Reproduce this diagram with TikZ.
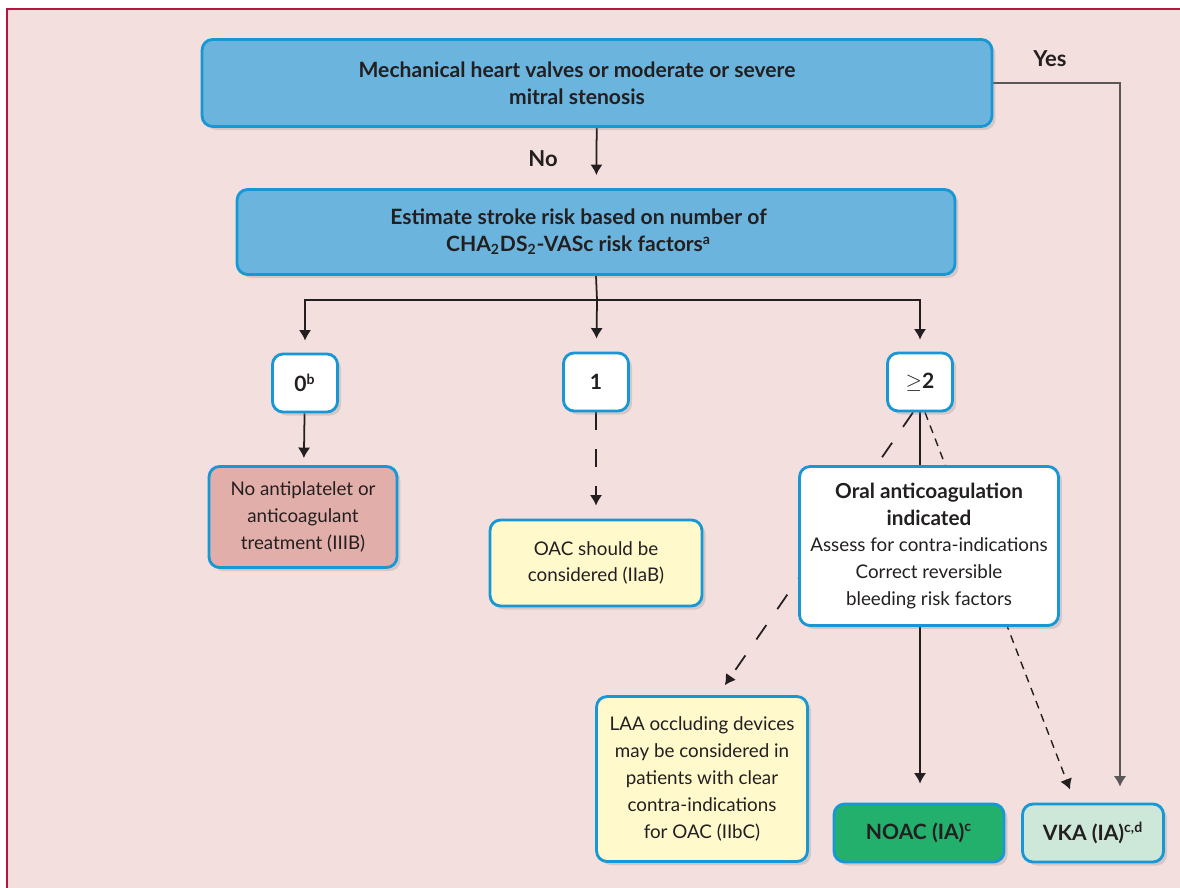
\documentclass[tikz,border=0pt]{standalone}
\usepackage{fontspec}
\setmainfont{Lato}
\usepackage{tikz}
\usetikzlibrary{arrows,arrows.meta,positioning,shapes,shadows,backgrounds}

\definecolor{bluebox}{HTML}{6BB4DD}
\definecolor{blueline}{HTML}{1897D5}
\definecolor{pinkbg}{HTML}{F3DFDE}
\definecolor{framered}{HTML}{B5163E}
\definecolor{redbox}{HTML}{E2AEA9}
\definecolor{yellowbox}{HTML}{FFF9CC}
\definecolor{greenbox}{HTML}{22B06C}
\definecolor{mintbox}{HTML}{CDE7D8}
\definecolor{ink}{HTML}{231F20}

\newcommand{\headline}[1]{{\bfseries\fontsize{11.8}{15.3}\selectfont #1}}

\pgfdeclarelayer{back}
\pgfdeclarelayer{lines}
\pgfsetlayers{back,lines,main}

\begin{document}
\begin{tikzpicture}[x=0.02cm,y=-0.02cm,>={Latex[length=6pt,width=7pt]},
  font=\fontsize{10.7}{15.3}\selectfont,
  box/.style={draw=blueline,line width=1.6pt,rounded corners=6pt,align=center,
    text=ink,inner sep=2pt,
    drop shadow={shadow xshift=2pt,shadow yshift=-2pt,opacity=0.25}},
  topbox/.style={box,fill=bluebox,font=\bfseries\fontsize{12}{15.3}\selectfont},
  scorebox/.style={box,fill=white,minimum width=1.3cm,minimum height=1.16cm,
    font=\bfseries\fontsize{12}{14}\selectfont},
  endbox/.style={box,minimum height=1.16cm,font=\bfseries\fontsize{12}{14}\selectfont},
  answer/.style={text=ink,font=\bfseries\fontsize{12.5}{14}\selectfont}]

\useasboundingbox (0,0) rectangle (1180,888);
\begin{pgfonlayer}{back}
  \fill[white] (0,0) rectangle (1180,888);
  \clip (0,0) rectangle (1180,888);
  \draw[framered,fill=pinkbg,line width=0.6pt] (7,9) rectangle (1200,900);
\end{pgfonlayer}

\node[topbox,minimum width=15.8cm,minimum height=1.74cm] (valve) at (597,83)
  {Mechanical heart valves or moderate or severe\hspace*{0.8cm}\\mitral stenosis\hspace*{0.8cm}};
\node[topbox,minimum width=14.36cm,minimum height=1.7cm] (risk) at (596,232)
  {Estimate stroke risk based on number of\hspace*{0.7cm}\\CHA\textsubscript{2}DS\textsubscript{2}-VASc risk factors\textsuperscript{a}\hspace*{0.7cm}};

\node[scorebox] (zero) at (305,383) {0\textsuperscript{b}};
\node[scorebox] (one)  at (596,382) {1};
\node[scorebox] (two)  at (920,382) {$\geq$2};

\node[box,fill=redbox,minimum width=3.76cm,minimum height=2.02cm] (none) at (303,517)
  {No antiplatelet or\\anticoagulant\\treatment (IIIB)};
\node[box,fill=yellowbox,minimum width=4.24cm,minimum height=1.72cm] (oac) at (596,563)
  {OAC should be\\considered (IIaB)};
\node[box,fill=white,minimum width=5.18cm,minimum height=3.18cm] (oral) at (929,546)
  {\headline{Oral anticoagulation}\\\headline{indicated}\\Assess for contra-indications\\Correct reversible\\bleeding risk factors};
\node[box,fill=yellowbox,minimum width=4.22cm,minimum height=3.3cm] (laa) at (702,779)
  {LAA occluding devices\\may be considered in\\patients with clear\\contra-indications\\for OAC (IIbC)};
\node[endbox,fill=greenbox,minimum width=3.4cm] (noac) at (919,833)
  {NOAC (IA)\textsuperscript{c}};
\node[endbox,fill=mintbox,minimum width=2.82cm] (vka) at (1093,833)
  {VKA (IA)\textsuperscript{c,d}};

\node[answer] (no)  at (543,159) {No};
\node[answer] (yes) at (1050,59) {Yes};

\coordinate (split) at (597,300);

\tikzset{link/.style={draw=ink,line width=1pt}}
\tikzset{longdash/.style={link,dash pattern=on 10pt off 11pt}}
\tikzset{shortdash/.style={link,line width=0.8pt,dash pattern=on 4.5pt off 3.5pt}}
\begin{pgfonlayer}{lines}
  \draw[link,->,shorten >=0.26cm] (valve) -- (risk);
  \draw[link] (risk.south) -- (split);
  \draw[link,->,shorten >=0.26cm] (split) -- (one);
  \draw[link,->,shorten >=0.24cm] (split) -| (zero);
  \draw[link,->,shorten >=0.24cm] (split) -| (two);
  \draw[link,->,shorten >=0.14cm] (zero) -- (none);
  \draw[longdash,->,shorten >=0.26cm] (one) -- (oac);
  \draw[link,->,shorten >=0.38cm] (two.south) -- (two.south |- noac.north);
  \draw[longdash,->,shorten >=0.24cm] ([xshift=-0.14cm]two.south) -- ([xshift=0.32cm]laa.north);
  \draw[shortdash,->,shorten >=0.28cm] ([xshift=0.1cm]two.south) -- ([xshift=-0.36cm]vka.north);
  \draw[link,draw=ink!75,line width=0.7pt,->,shorten >=0.32cm] (valve.east) -| ([xshift=0.54cm]vka.north);
\end{pgfonlayer}
\end{tikzpicture}
\end{document}
